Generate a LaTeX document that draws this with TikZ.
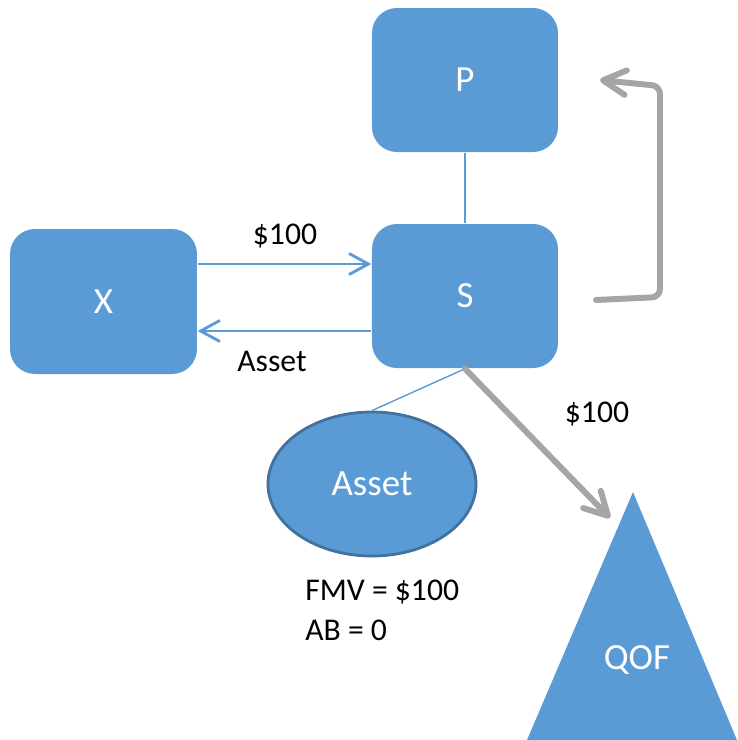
\documentclass[tikz,border=0pt]{standalone}
\usepackage{fontspec}
\setmainfont{Carlito}
\usetikzlibrary{arrows.meta,shapes.geometric}
\definecolor{boxblue}{HTML}{5B9BD5}
\definecolor{edgeblue}{HTML}{41719C}
\definecolor{arrowgray}{HTML}{A5A5A5}

\begin{document}
\begin{tikzpicture}[x=0.1mm,y=-0.1mm,
  box/.style={fill=boxblue,rounded corners=2.5mm,minimum width=18.6mm,minimum height=14.4mm,text=white,font=\fontsize{10.5}{12}\selectfont},
  flow/.style={draw=boxblue,line width=0.8pt,-{Straight Barb[length=5.5pt,width=6pt]}},
  link/.style={draw=boxblue,line width=0.4pt},
  bigflow/.style={draw=arrowgray,line width=1.7pt,line cap=round,-{Straight Barb[length=6.5pt,width=7pt,round]}},
  lbl/.style={font=\fontsize{9}{11.4}\selectfont}]
\useasboundingbox (0,0) rectangle (737,740);
% entities
\node[box] (P) at (465,80) {P};
\node[box] (S) at (465,296) {S};
\node[box,minimum width=18.7mm,minimum height=14.5mm] (X) at (103.5,301.5) {X};
\node[ellipse,fill=boxblue,draw=edgeblue,line width=0.8pt,minimum width=20.8mm,minimum height=14.4mm,inner sep=0pt,text=white,font=\fontsize{10.5}{12}\selectfont] (asset) at (372,484) {Asset};
% QOF triangle
\fill[boxblue] (633,492) -- (527,740) -- (737,740) -- cycle;
\node[text=white,font=\fontsize{10.5}{12}\selectfont] (qof) at (637,660) {QOF};
% thin links
\draw[link] (P.south) -- (S.north);
\draw[link] (S.south) -- (asset.north);
% exchange between X and S
\coordinate (upper) at (0,264);
\coordinate (lower) at (0,331);
\draw[flow] (X.east |- upper) -- (S.west |- upper);
\draw[flow] (S.west |- lower) -- (X.east |- lower);
\node[lbl] (pay) at (285,236) {\$100};
\node[lbl] (give) at (272,361) {Asset};
% contribution to QOF
\coordinate (qoftip) at (610,518);
\draw[bigflow] (S.south) -- (qoftip);
\node[lbl] (cash) at (597,414) {\$100};
% S back up to P
\coordinate (sout) at (596,300);
\coordinate (pin) at (600,80);
\draw[bigflow,rounded corners=0.8mm] (sout) -- (660,297) -- (660,86) -- (pin);
% asset values
\node[lbl,anchor=west,align=left] (values) at (293,610) {FMV = \$100\\AB = 0};
\end{tikzpicture}
\end{document}
